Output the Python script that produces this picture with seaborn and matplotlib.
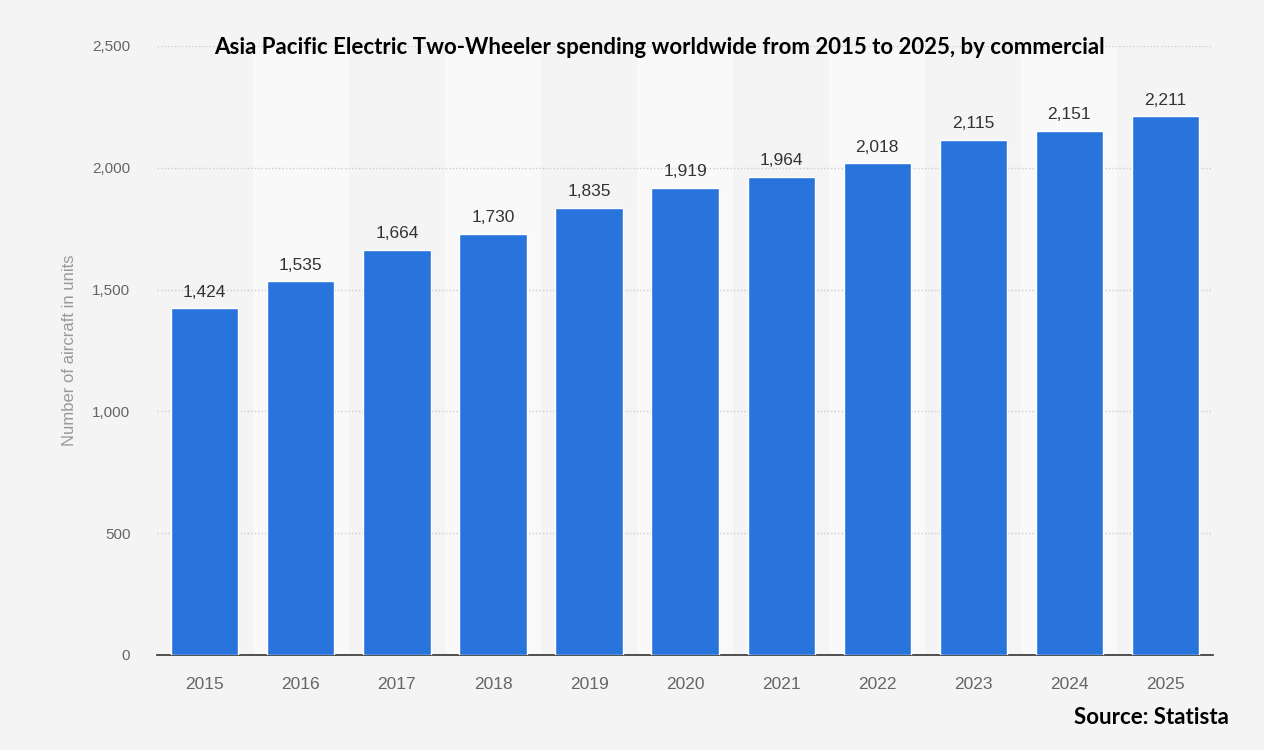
import matplotlib
matplotlib.use("Agg")
import matplotlib.pyplot as plt
import seaborn as sns
import pandas as pd

years = ["2015", "2016", "2017", "2018", "2019", "2020", "2021", "2022", "2023", "2024", "2025"]
values = [1424, 1535, 1664, 1730, 1835, 1919, 1964, 2018, 2115, 2151, 2211]
title = "Asia Pacific Electric Two-Wheeler spending worldwide from 2015 to 2025, by commercial"
ylabel = "Number of aircraft in units"
source = "Source: Statista"

sns.set_theme(style="white")
plt.rcParams['font.family'] = ['Liberation Sans', 'DejaVu Sans']

df = pd.DataFrame({"year": years, "value": values})

fig = plt.figure(figsize=(12.64, 7.5), dpi=100)
fig.patch.set_facecolor("#f4f4f4")
ax = fig.add_axes([0.124, 0.1267, 0.836, 0.812])
ax.set_facecolor("#f4f4f4")

for i in range(len(years)):
    if i % 2 == 1:
        ax.axvspan(i - 0.5, i + 0.5, color="#f9f9f9", zorder=0, lw=0)

sns.barplot(data=df, x="year", y="value", color="#2874dc", saturation=1, width=0.7, ax=ax, zorder=3)

ax.set_ylim(0, 2500)
ax.set_xlim(-0.5, 10.5)
ax.set_yticks([0, 500, 1000, 1500, 2000, 2500])
ax.set_yticklabels(["0", "500", "1,000", "1,500", "2,000", "2,500"])
ax.yaxis.grid(True, linestyle=(0, (1, 1.5)), color="#cccccc", lw=1, zorder=1)
ax.set_axisbelow(True)
for s in ["top", "right", "left"]:
    ax.spines[s].set_visible(False)
ax.spines["bottom"].set_color("#333333")
ax.spines["bottom"].set_linewidth(1.2)
ax.tick_params(axis="x", colors="#666666", labelsize=12.5, length=0, pad=16)
ax.tick_params(axis="y", colors="#666666", labelsize=11, length=0, pad=19)
ax.set_xlabel("")
ax.set_ylabel(ylabel, color="#999999", fontsize=12, labelpad=11)

for i, v in enumerate(values):
    ax.text(i, v + 35, f"{v:,}", ha="center", va="bottom", fontsize=12.5, color="#333333", zorder=5)

fig.text(0.522, 0.937, title, ha="center", va="center", fontsize=16, fontweight="bold",
         family=["Lato", "DejaVu Sans"], color="black")
fig.text(0.972, 0.043, source, ha="right", va="center", fontsize=16, fontweight="bold",
         family=["Lato", "DejaVu Sans"], color="black")

fig.savefig("out.png", dpi=100, facecolor=fig.get_facecolor())
